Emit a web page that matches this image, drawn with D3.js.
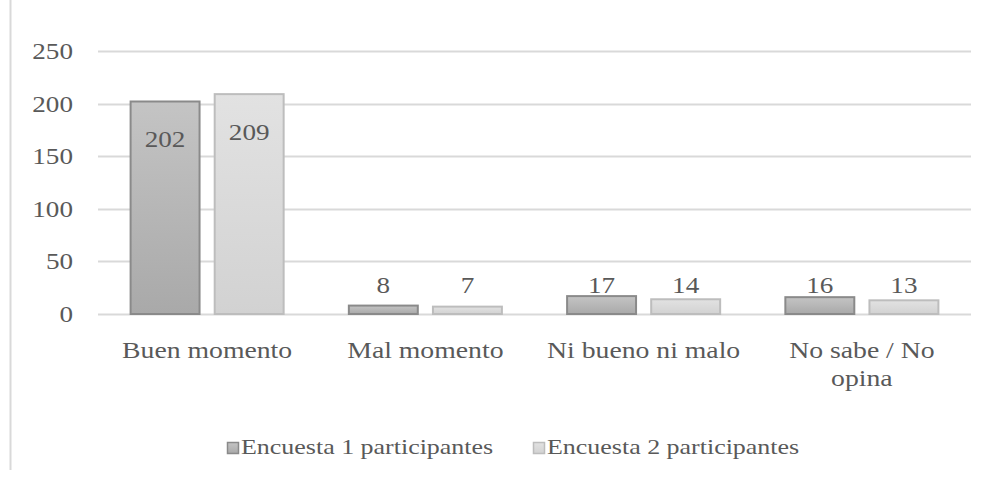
<!DOCTYPE html>
<html>
<head>
<meta charset="utf-8">
<script src="https://cdn.jsdelivr.net/npm/d3@7"></script>
<style>
  body { margin: 0; background: #fff; }
</style>
</head>
<body>
<div class="chart"></div>
<script>
var categories = ["Buen momento", "Mal momento", "Ni bueno ni malo", "No sabe / No opina"];
var seriesNames = ["Encuesta 1 participantes", "Encuesta 2 participantes"];
var encuesta1 = [202, 8, 17, 16];
var encuesta2 = [209, 7, 14, 13];
var yTicks = [0, 50, 100, 150, 200, 250];

var svgWidth = 991, svgHeight = 489;
var margin = { top: 51, right: 20, bottom: 175, left: 98 };
var width = 971 - margin.left;
var height = 314 - margin.top;
var FONT = "'Liberation Serif', Tinos, 'DejaVu Serif', serif";
var SX = 1.18; // text in the reference is a bit stretched horizontally

var svg = d3.select(".chart").append("svg")
  .attr("width", svgWidth)
  .attr("height", svgHeight)
  .attr("font-family", FONT);

// gradients for the bars
var defs = svg.append("defs");
var grads = [["g1", "#c4c4c4", "#a9a9a9"], ["g2", "#e2e2e2", "#d2d2d2"]];
grads.forEach(function (g) {
  var lg = defs.append("linearGradient").attr("id", g[0])
    .attr("x1", 0).attr("y1", 0).attr("x2", 0).attr("y2", 1);
  lg.append("stop").attr("offset", "0%").attr("stop-color", g[1]);
  lg.append("stop").attr("offset", "100%").attr("stop-color", g[2]);
});
var strokes = ["#8a8a8a", "#bdbdbd"];
var fills = ["url(#g1)", "url(#g2)"];

// stretched text helper
function addText(parent, x, y, str, size, anchor) {
  return parent.append("text")
    .attr("transform", `translate(${x}, ${y}) scale(${SX}, 1)`)
    .attr("text-anchor", anchor || "middle")
    .attr("font-family", FONT)
    .attr("font-size", size)
    .attr("fill", "#595959")
    .text(str);
}

// left frame line
svg.append("line")
  .attr("x1", 10.5).attr("x2", 10.5).attr("y1", 0).attr("y2", 470)
  .attr("stroke", "#d9d9d9").attr("stroke-width", 2);

var chartGroup = svg.append("g")
  .attr("transform", `translate(${margin.left}, ${margin.top})`);

var yScale = d3.scaleLinear().domain([0, 250]).range([height, 0]);
var x0 = d3.scaleBand().domain(categories).range([0, width]).paddingInner(0).paddingOuter(0);
var x1 = d3.scaleBand().domain(seriesNames).range([32.6, x0.bandwidth() - 32.6]).paddingInner(0.18);

// gridlines
chartGroup.selectAll(".grid")
  .data(yTicks)
  .enter().append("line")
  .attr("x1", 0).attr("x2", width)
  .attr("y1", d => Math.round(yScale(d)) + 0.5)
  .attr("y2", d => Math.round(yScale(d)) + 0.5)
  .attr("stroke", "#d9d9d9")
  .attr("stroke-width", 2);

// y tick labels
yTicks.forEach(function (t) {
  addText(chartGroup, -25, yScale(t) + 8, t, 23, "end");
});

var data = [encuesta1, encuesta2];
seriesNames.forEach(function (s, i) {
  var g = chartGroup.append("g");
  g.selectAll("rect")
    .data(data[i])
    .enter().append("rect")
    .attr("x", (d, j) => x0(categories[j]) + x1(s))
    .attr("y", d => yScale(d))
    .attr("width", x1.bandwidth())
    .attr("height", d => height - yScale(d))
    .attr("fill", fills[i])
    .attr("stroke", strokes[i])
    .attr("stroke-width", 2);

  // inside-end labels, pushed up when the bar is too short
  data[i].forEach(function (d, j) {
    var lx = x0(categories[j]) + x1(s) + x1.bandwidth() / 2;
    var ly = Math.min(yScale(d) + 46, yScale(0) - 21);
    addText(g, lx, ly, d, 23, "middle");
  });
});

// category labels
var catLines = [["Buen momento"], ["Mal momento"], ["Ni bueno ni malo"], ["No sabe / No", "opina"]];
categories.forEach(function (c, j) {
  catLines[j].forEach(function (line, k) {
    addText(chartGroup, x0(c) + x0.bandwidth() / 2, height + 44 + k * 28, line, 23.5, "middle");
  });
});

// legend
var legendX = [227, 533];
seriesNames.forEach(function (s, i) {
  var lg = svg.append("g").attr("transform", `translate(${legendX[i]}, 454)`);
  lg.append("rect")
    .attr("x", 0.5).attr("y", -11.5)
    .attr("width", 11).attr("height", 11)
    .attr("fill", fills[i])
    .attr("stroke", strokes[i])
    .attr("stroke-width", 1.5);
  addText(lg, 14, 0, s, 22, "start");
});
</script>
</body>
</html>
